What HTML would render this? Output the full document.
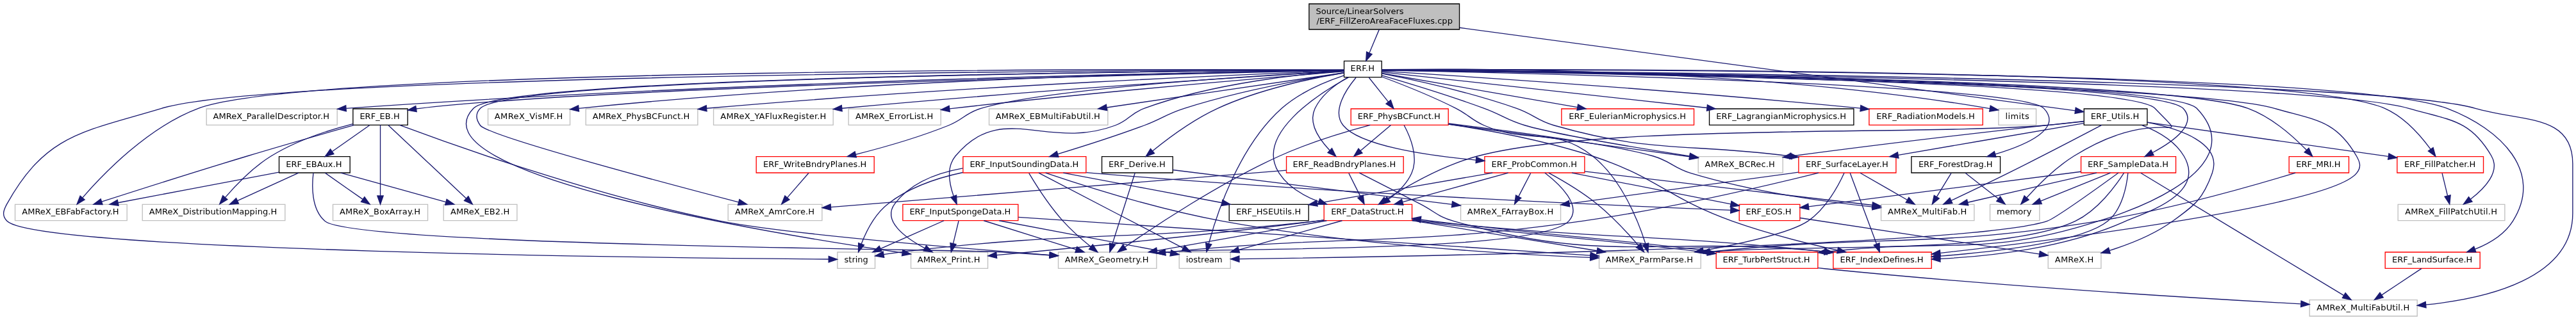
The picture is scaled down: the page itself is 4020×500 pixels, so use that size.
<!DOCTYPE html>
<html lang="en">
<head>
<meta charset="utf-8">
<title>ERF_FillZeroAreaFaceFluxes.cpp include dependency graph</title>
<style>
html,body{margin:0;padding:0;background:#fff;}
body{width:4020px;height:500px;overflow:hidden;}
svg{display:block;will-change:transform;}
svg text{font-family:"DejaVu Sans","Liberation Sans",sans-serif;font-size:9.75px;fill:#000;}
</style>
</head>
<body>
<svg width="4020" height="500" viewBox="0 0 3015 375">
<g transform="scale(1 1) rotate(0) translate(4 371)">
<polygon fill="white" stroke="none" points="-4,4 -4,-371 3011.15,-371 3011.15,4 -4,4"/>
<g>
<polygon fill="#bfbfbf" stroke="black" points="1528.15,-336.5 1528.15,-366.5 1704.15,-366.5 1704.15,-336.5 1528.15,-336.5"/>
<text text-anchor="start" x="1536.15" y="-354.5">Source/LinearSolvers</text>
<text text-anchor="middle" x="1616.53" y="-343.5" textLength="159.29" lengthAdjust="spacing">/ERF_FillZeroAreaFaceFluxes.cpp</text>
</g>
<g>
<polygon fill="white" stroke="black" points="1569.15,-280.5 1569.15,-299.5 1613.15,-299.5 1613.15,-280.5 1569.15,-280.5"/>
<text text-anchor="middle" x="1590.77" y="-287.5" textLength="28.16" lengthAdjust="spacing">ERF.H</text>
</g>
<g>
<path fill="none" stroke="midnightblue" d="M1610.23,-336.4C1606.78,-328.2 1602.4,-317.78 1598.71,-308.99"/>
<polygon fill="midnightblue" stroke="midnightblue" points="1601.89,-307.52 1594.79,-299.66 1595.44,-310.23 1601.89,-307.52"/>
</g>
<g>
<polygon fill="white" stroke="black" points="2435.15,-224.5 2435.15,-243.5 2509.15,-243.5 2509.15,-224.5 2435.15,-224.5"/>
<text text-anchor="middle" x="2471.40" y="-231.5" textLength="56.81" lengthAdjust="spacing">ERF_Utils.H</text>
</g>
<g>
<path fill="none" stroke="midnightblue" d="M1704.54,-338.57C1884.18,-314.34 2286.59,-260.04 2424.62,-241.41"/>
<polygon fill="midnightblue" stroke="midnightblue" points="2425.42,-244.84 2434.86,-240.03 2424.48,-237.9 2425.42,-244.84"/>
</g>
<g>
<polygon fill="white" stroke="#bfbfbf" points="976.15,-56.5 976.15,-75.5 1020.15,-75.5 1020.15,-56.5 976.15,-56.5"/>
<text text-anchor="middle" x="998.15" y="-63.5" textLength="28.00" lengthAdjust="spacing">string</text>
</g>
<g>
<path fill="none" stroke="midnightblue" d="M1569.01,-288.98C1400.46,-288.74 323.03,-285.6 185.15,-244 94.59,-216.67 50.2,-214.64 4.15,-132 -0.17,-124.24 -1.99,-118.43 4.15,-112 38.13,-76.45 798.37,-68.54 965.75,-67.22"/>
<polygon fill="midnightblue" stroke="midnightblue" points="965.93,-70.72 975.9,-67.15 965.88,-63.72 965.93,-70.72"/>
</g>
<g>
<polygon fill="white" stroke="#bfbfbf" points="2335.15,-224.5 2335.15,-243.5 2379.15,-243.5 2379.15,-224.5 2335.15,-224.5"/>
<text text-anchor="middle" x="2357.15" y="-231.5" textLength="28.03" lengthAdjust="spacing">limits</text>
</g>
<g>
<path fill="none" stroke="midnightblue" d="M1613.31,-289.42C1702,-290.74 2040.04,-292.23 2324.83,-243.83"/>
<polygon fill="midnightblue" stroke="midnightblue" points="2325.68,-247.24 2334.94,-242.09 2324.49,-240.34 2325.68,-247.24"/>
</g>
<g>
<polygon fill="white" stroke="#bfbfbf" points="2325.15,-112.5 2325.15,-131.5 2383.15,-131.5 2383.15,-112.5 2325.15,-112.5"/>
<text text-anchor="middle" x="2353.40" y="-119.5" textLength="40.75" lengthAdjust="spacing">memory</text>
</g>
<g>
<path fill="none" stroke="midnightblue" d="M1613.22,-288.78C1750.77,-287.3 2485.92,-277.83 2518.15,-244 2564.94,-194.89 2525.81,-252.21 2423.15,-188 2401.69,-174.58 2381.11,-153.82 2368.1,-139.39"/>
<polygon fill="midnightblue" stroke="midnightblue" points="2370.59,-136.92 2361.36,-131.72 2365.34,-141.54 2370.59,-136.92"/>
</g>
<g>
<polygon fill="white" stroke="#bfbfbf" points="848.15,-112.5 848.15,-131.5 958.15,-131.5 958.15,-112.5 848.15,-112.5"/>
<text text-anchor="middle" x="902.77" y="-119.5" textLength="92.89" lengthAdjust="spacing">AMReX_AmrCore.H</text>
</g>
<g>
<path fill="none" stroke="midnightblue" d="M1568.99,-288.89C1422.14,-288.08 594.35,-281.81 558.15,-244 552.01,-237.58 552.82,-231.11 558.15,-224 567.44,-211.6 769.94,-157.66 860.29,-134.09"/>
<polygon fill="midnightblue" stroke="midnightblue" points="861.43,-137.41 870.22,-131.5 859.66,-130.63 861.43,-137.41"/>
</g>
<g>
<polygon fill="white" stroke="#bfbfbf" points="1983.65,-168.5 1983.65,-187.5 2082.65,-187.5 2082.65,-168.5 1983.65,-168.5"/>
<text text-anchor="middle" x="2032.40" y="-175.5" textLength="81.93" lengthAdjust="spacing">AMReX_BCRec.H</text>
</g>
<g>
<path fill="none" stroke="midnightblue" d="M1613.49,-282.58C1641.64,-274.35 1691.38,-259.29 1733.15,-244 1754.86,-236.06 1758.98,-230.51 1781.15,-224 1816.29,-213.68 1910.65,-197.99 1973.4,-188.13"/>
<polygon fill="midnightblue" stroke="midnightblue" points="1974.23,-191.54 1983.57,-186.54 1973.15,-184.63 1974.23,-191.54"/>
</g>
<g>
<polygon fill="white" stroke="#bfbfbf" points="1062.15,-56.5 1062.15,-75.5 1152.15,-75.5 1152.15,-56.5 1062.15,-56.5"/>
<text text-anchor="middle" x="1106.40" y="-63.5" textLength="73.34" lengthAdjust="spacing">AMReX_Print.H</text>
</g>
<g>
<path fill="none" stroke="midnightblue" d="M1568.81,-288.9C1420.84,-288.13 586.63,-282.09 550.15,-244 476.57,-167.17 897.21,-97.45 1051.82,-74.74"/>
<polygon fill="midnightblue" stroke="midnightblue" points="1052.66,-78.16 1062.05,-73.25 1051.65,-71.23 1052.66,-78.16"/>
</g>
<g>
<polygon fill="white" stroke="#bfbfbf" points="237.65,-224.5 237.65,-243.5 390.65,-243.5 390.65,-224.5 237.65,-224.5"/>
<text text-anchor="middle" x="313.40" y="-231.5" textLength="136.18" lengthAdjust="spacing">AMReX_ParallelDescriptor.H</text>
</g>
<g>
<path fill="none" stroke="midnightblue" d="M1568.81,-288.71C1449.92,-287.05 879.41,-277.65 401.24,-244.02"/>
<polygon fill="midnightblue" stroke="midnightblue" points="401.25,-240.52 391.02,-243.3 400.75,-247.5 401.25,-240.52"/>
</g>
<g>
<polygon fill="white" stroke="#bfbfbf" points="1867.65,-56.5 1867.65,-75.5 1986.65,-75.5 1986.65,-56.5 1867.65,-56.5"/>
<text text-anchor="middle" x="1926.40" y="-63.5" textLength="102.16" lengthAdjust="spacing">AMReX_ParmParse.H</text>
</g>
<g>
<path fill="none" stroke="midnightblue" d="M1613.31,-281C1635.65,-272.66 1670.92,-258.78 1700.15,-244 1715.46,-236.26 1717.43,-230.84 1733.15,-224 1786.95,-200.59 1814.19,-224.46 1860.15,-188 1894.06,-161.1 1913.43,-112.09 1921.93,-85.45"/>
<polygon fill="midnightblue" stroke="midnightblue" points="1925.39,-86.11 1924.92,-75.53 1918.68,-84.09 1925.39,-86.11"/>
</g>
<g>
<polygon fill="white" stroke="#bfbfbf" points="2699.15,-0.5 2699.15,-19.5 2825.15,-19.5 2825.15,-0.5 2699.15,-0.5"/>
<text text-anchor="middle" x="2761.77" y="-7.5" textLength="108.74" lengthAdjust="spacing">AMReX_MultiFabUtil.H</text>
</g>
<g>
<path fill="none" stroke="midnightblue" d="M1613.16,-288.87C1773.97,-287.88 2765.25,-280.28 2893.15,-244 2949.26,-228.09 3007.15,-237.32 3007.15,-179 3007.15,-179 3007.15,-179 3007.15,-121 3007.15,-44.85 2907.44,-21.09 2835.24,-13.87"/>
<polygon fill="midnightblue" stroke="midnightblue" points="2835.52,-10.38 2825.25,-12.96 2834.89,-17.35 2835.52,-10.38"/>
</g>
<g>
<polygon fill="white" stroke="#bfbfbf" points="2802.65,-112.5 2802.65,-131.5 2927.65,-131.5 2927.65,-112.5 2802.65,-112.5"/>
<text text-anchor="middle" x="2864.77" y="-119.5" textLength="107.84" lengthAdjust="spacing">AMReX_FillPatchUtil.H</text>
</g>
<g>
<path fill="none" stroke="midnightblue" d="M1613.57,-288.83C1769.97,-287.53 2695.48,-278.43 2815.15,-244 2862.99,-230.24 2887.26,-231.11 2912.15,-188 2922.65,-169.82 2904.49,-150.52 2887.78,-137.71"/>
<polygon fill="midnightblue" stroke="midnightblue" points="2889.5,-134.64 2879.34,-131.65 2885.42,-140.33 2889.5,-134.64"/>
</g>
<g>
<polygon fill="white" stroke="#bfbfbf" points="567.15,-224.5 567.15,-243.5 663.15,-243.5 663.15,-224.5 567.15,-224.5"/>
<text text-anchor="middle" x="614.77" y="-231.5" textLength="79.85" lengthAdjust="spacing">AMReX_VisMF.H</text>
</g>
<g>
<path fill="none" stroke="midnightblue" d="M1569.04,-288.79C1467.64,-287.67 1036.97,-280.92 673.5,-244.02"/>
<polygon fill="midnightblue" stroke="midnightblue" points="673.61,-240.51 663.31,-242.98 672.9,-247.48 673.61,-240.51"/>
</g>
<g>
<polygon fill="white" stroke="#bfbfbf" points="681.65,-224.5 681.65,-243.5 812.65,-243.5 812.65,-224.5 681.65,-224.5"/>
<text text-anchor="middle" x="746.40" y="-231.5" textLength="113.75" lengthAdjust="spacing">AMReX_PhysBCFunct.H</text>
</g>
<g>
<path fill="none" stroke="midnightblue" d="M1569.09,-288.2C1478.41,-284.82 1125.26,-270.63 823.25,-244.04"/>
<polygon fill="midnightblue" stroke="midnightblue" points="823.25,-240.53 812.98,-243.13 822.63,-247.5 823.25,-240.53"/>
</g>
<g>
<polygon fill="white" stroke="#bfbfbf" points="831.15,-224.5 831.15,-243.5 971.15,-243.5 971.15,-224.5 831.15,-224.5"/>
<text text-anchor="middle" x="901.15" y="-231.5" textLength="123.79" lengthAdjust="spacing">AMReX_YAFluxRegister.H</text>
</g>
<g>
<path fill="none" stroke="midnightblue" d="M1568.93,-287.69C1490.32,-282.97 1217.82,-266.03 981.51,-244.09"/>
<polygon fill="midnightblue" stroke="midnightblue" points="981.63,-240.59 971.35,-243.14 980.98,-247.56 981.63,-240.59"/>
</g>
<g>
<polygon fill="white" stroke="#bfbfbf" points="989.15,-224.5 989.15,-243.5 1097.15,-243.5 1097.15,-224.5 989.15,-224.5"/>
<text text-anchor="middle" x="1042.77" y="-231.5" textLength="90.97" lengthAdjust="spacing">AMReX_ErrorList.H</text>
</g>
<g>
<path fill="none" stroke="midnightblue" d="M1569.11,-287.23C1500.94,-281.71 1287.47,-263.93 1111.15,-244 1109.89,-243.86 1108.61,-243.71 1107.32,-243.56"/>
<polygon fill="midnightblue" stroke="midnightblue" points="1107.67,-240.08 1097.32,-242.36 1106.83,-247.03 1107.67,-240.08"/>
</g>
<g>
<polygon fill="white" stroke="#bfbfbf" points="13.65,-112.5 13.65,-131.5 144.65,-131.5 144.65,-112.5 13.65,-112.5"/>
<text text-anchor="middle" x="78.40" y="-119.5" textLength="113.36" lengthAdjust="spacing">AMReX_EBFabFactory.H</text>
</g>
<g>
<path fill="none" stroke="midnightblue" d="M1569.11,-289.12C1403.62,-289.89 358.8,-292.81 228.15,-244 169.56,-222.11 116.79,-167.28 92.8,-139.57"/>
<polygon fill="midnightblue" stroke="midnightblue" points="95.19,-136.98 86.05,-131.61 89.85,-141.5 95.19,-136.98"/>
</g>
<g>
<polygon fill="white" stroke="#bfbfbf" points="1153.65,-224.5 1153.65,-243.5 1292.65,-243.5 1292.65,-224.5 1153.65,-224.5"/>
<text text-anchor="middle" x="1222.40" y="-231.5" textLength="122.34" lengthAdjust="spacing">AMReX_EBMultiFabUtil.H</text>
</g>
<g>
<path fill="none" stroke="midnightblue" d="M1568.96,-285.74C1515.13,-277.84 1375.84,-257.4 1291.37,-245.01"/>
<polygon fill="midnightblue" stroke="midnightblue" points="1291.75,-241.53 1281.35,-243.54 1290.74,-248.46 1291.75,-241.53"/>
</g>
<g>
<polygon fill="white" stroke="black" points="409.15,-224.5 409.15,-243.5 473.15,-243.5 473.15,-224.5 409.15,-224.5"/>
<text text-anchor="middle" x="440.40" y="-231.5" textLength="46.70" lengthAdjust="spacing">ERF_EB.H</text>
</g>
<g>
<path fill="none" stroke="midnightblue" d="M1568.81,-288.55C1432.16,-285.76 707.67,-269.91 487.15,-244 485.88,-243.85 484.59,-243.69 483.29,-243.51"/>
<polygon fill="midnightblue" stroke="midnightblue" points="483.65,-240.02 473.22,-241.92 482.56,-246.94 483.65,-240.02"/>
</g>
<g>
<polygon fill="white" stroke="red" points="1733.65,-168.5 1733.65,-187.5 1850.65,-187.5 1850.65,-168.5 1733.65,-168.5"/>
<text text-anchor="middle" x="1791.77" y="-175.5" textLength="100.17" lengthAdjust="spacing">ERF_ProbCommon.H</text>
</g>
<g>
<path fill="none" stroke="midnightblue" d="M1583.04,-280.07C1571.8,-266.6 1554.35,-240.85 1568.15,-224 1587.54,-200.34 1664.88,-188.85 1723.3,-183.46"/>
<polygon fill="midnightblue" stroke="midnightblue" points="1723.94,-186.92 1733.6,-182.55 1723.33,-179.94 1723.94,-186.92"/>
</g>
<g>
<polygon fill="white" stroke="red" points="1545.65,-112.5 1545.65,-131.5 1648.65,-131.5 1648.65,-112.5 1545.65,-112.5"/>
<text text-anchor="middle" x="1596.40" y="-119.5" textLength="85.02" lengthAdjust="spacing">ERF_DataStruct.H</text>
</g>
<g>
<path fill="none" stroke="midnightblue" d="M1574.35,-280.36C1539.22,-261.14 1463.62,-212.96 1493.15,-168 1503.72,-151.91 1521.41,-141.54 1539.23,-134.88"/>
<polygon fill="midnightblue" stroke="midnightblue" points="1540.75,-138.06 1549.1,-131.54 1538.51,-131.43 1540.75,-138.06"/>
</g>
<g>
<polygon fill="white" stroke="#bfbfbf" points="1376.15,-56.5 1376.15,-75.5 1436.15,-75.5 1436.15,-56.5 1376.15,-56.5"/>
<text text-anchor="middle" x="1405.40" y="-63.5" textLength="42.84" lengthAdjust="spacing">iostream</text>
</g>
<g>
<path fill="none" stroke="midnightblue" d="M1569.12,-282.56C1548.44,-275.66 1517.56,-263.05 1496.15,-244 1446.43,-199.74 1420.51,-121.54 1410.78,-85.79"/>
<polygon fill="midnightblue" stroke="midnightblue" points="1414.08,-84.57 1408.18,-75.77 1407.3,-86.33 1414.08,-84.57"/>
</g>
<g>
<polygon fill="white" stroke="red" points="2141.65,-56.5 2141.65,-75.5 2256.65,-75.5 2256.65,-56.5 2141.65,-56.5"/>
<text text-anchor="middle" x="2198.40" y="-63.5" textLength="97.61" lengthAdjust="spacing">ERF_IndexDefines.H</text>
</g>
<g>
<path fill="none" stroke="midnightblue" d="M1613.39,-288.7C1757.36,-286.71 2554.62,-274.34 2658.15,-244 2705.55,-230.11 2729.55,-230.83 2754.15,-188 2758.58,-180.29 2759.75,-174.91 2754.15,-168 2723.66,-130.33 2408.58,-90.54 2267.18,-74.42"/>
<polygon fill="midnightblue" stroke="midnightblue" points="2267.23,-70.9 2256.9,-73.26 2266.44,-77.86 2267.23,-70.9"/>
</g>
<g>
<polygon fill="white" stroke="red" points="2004.65,-56.5 2004.65,-75.5 2123.65,-75.5 2123.65,-56.5 2004.65,-56.5"/>
<text text-anchor="middle" x="2063.40" y="-63.5" textLength="101.95" lengthAdjust="spacing">ERF_TurbPertStruct.H</text>
</g>
<g>
<path fill="none" stroke="midnightblue" d="M1613.46,-288.83C1755.86,-287.66 2533.11,-279.65 2567.15,-244 2642.36,-165.24 2452.56,-112.13 2452.15,-112 2319.39,-69.26 2276.7,-92.14 2133.98,-76.04"/>
<polygon fill="midnightblue" stroke="midnightblue" points="2134.32,-72.56 2123.98,-74.87 2133.51,-79.51 2134.32,-72.56"/>
</g>
<g>
<polygon fill="white" stroke="red" points="1123.15,-168.5 1123.15,-187.5 1267.15,-187.5 1267.15,-168.5 1123.15,-168.5"/>
<text text-anchor="middle" x="1194.77" y="-175.5" textLength="127.41" lengthAdjust="spacing">ERF_InputSoundingData.H</text>
</g>
<g>
<path fill="none" stroke="midnightblue" d="M1569.13,-285.68C1530.64,-279.55 1448.84,-265.16 1382.15,-244 1360.51,-237.14 1356.43,-231.93 1335.15,-224 1301.49,-211.46 1262.53,-199.11 1234.27,-190.53"/>
<polygon fill="midnightblue" stroke="midnightblue" points="1234.96,-187.08 1224.38,-187.54 1232.94,-193.78 1234.96,-187.08"/>
</g>
<g>
<polygon fill="white" stroke="red" points="1052.65,-112.5 1052.65,-131.5 1187.65,-131.5 1187.65,-112.5 1052.65,-112.5"/>
<text text-anchor="middle" x="1119.77" y="-119.5" textLength="118.34" lengthAdjust="spacing">ERF_InputSpongeData.H</text>
</g>
<g>
<path fill="none" stroke="midnightblue" d="M1568.89,-287.76C1523.58,-284.65 1417.94,-274.49 1335.15,-244 1318.7,-237.94 1317.55,-230.19 1301.15,-224 1221.97,-194.11 1168.05,-253.26 1114.15,-188 1103.47,-175.06 1107.15,-155.35 1112.15,-141.02"/>
<polygon fill="midnightblue" stroke="midnightblue" points="1115.41,-142.3 1115.84,-131.72 1108.9,-139.72 1115.41,-142.3"/>
</g>
<g>
<polygon fill="white" stroke="red" points="2101.15,-168.5 2101.15,-187.5 2215.15,-187.5 2215.15,-168.5 2101.15,-168.5"/>
<text text-anchor="middle" x="2157.77" y="-175.5" textLength="96.54" lengthAdjust="spacing">ERF_SurfaceLayer.H</text>
</g>
<g>
<path fill="none" stroke="midnightblue" d="M1613.42,-284.79C1647.8,-277.99 1715.65,-263.37 1771.15,-244 1791.43,-236.92 1794.5,-229.89 1815.15,-224 1931.39,-190.84 1967.21,-203.66 2090.69,-188.15"/>
<polygon fill="midnightblue" stroke="midnightblue" points="2091.45,-191.58 2100.92,-186.83 2090.55,-184.64 2091.45,-191.58"/>
</g>
<g>
<polygon fill="white" stroke="black" points="1285.65,-168.5 1285.65,-187.5 1368.65,-187.5 1368.65,-168.5 1285.65,-168.5"/>
<text text-anchor="middle" x="1326.77" y="-175.5" textLength="66.60" lengthAdjust="spacing">ERF_Derive.H</text>
</g>
<g>
<path fill="none" stroke="midnightblue" d="M1569.13,-285.68C1535.89,-280.12 1471.48,-267.19 1421.15,-244 1392.5,-230.8 1363.19,-208.92 1345.08,-194.24"/>
<polygon fill="midnightblue" stroke="midnightblue" points="1347.08,-191.35 1337.14,-187.68 1342.62,-196.75 1347.08,-191.35"/>
</g>
<g>
<polygon fill="white" stroke="red" points="1501.65,-168.5 1501.65,-187.5 1638.65,-187.5 1638.65,-168.5 1501.65,-168.5"/>
<text text-anchor="middle" x="1569.40" y="-175.5" textLength="120.52" lengthAdjust="spacing">ERF_ReadBndryPlanes.H</text>
</g>
<g>
<path fill="none" stroke="midnightblue" d="M1573.65,-280.46C1560.37,-272.92 1543.08,-260.53 1535.15,-244 1526.99,-226.96 1539.83,-208 1552.19,-194.97"/>
<polygon fill="midnightblue" stroke="midnightblue" points="1554.93,-197.19 1559.64,-187.7 1550.04,-192.18 1554.93,-197.19"/>
</g>
<g>
<polygon fill="white" stroke="red" points="881.15,-168.5 881.15,-187.5 1019.15,-187.5 1019.15,-168.5 881.15,-168.5"/>
<text text-anchor="middle" x="949.77" y="-175.5" textLength="121.01" lengthAdjust="spacing">ERF_WriteBndryPlanes.H</text>
</g>
<g>
<path fill="none" stroke="midnightblue" d="M1569.1,-287.9C1490.63,-283.8 1225.28,-268.42 1144.15,-244 1125.88,-238.5 1123.86,-231.13 1106.15,-224 1070.64,-209.71 1028.91,-197.91 997.54,-189.99"/>
<polygon fill="midnightblue" stroke="midnightblue" points="998.3,-186.57 987.75,-187.56 996.61,-193.37 998.3,-186.57"/>
</g>
<g>
<polygon fill="white" stroke="red" points="2675.15,-168.5 2675.15,-187.5 2745.15,-187.5 2745.15,-168.5 2675.15,-168.5"/>
<text text-anchor="middle" x="2709.40" y="-175.5" textLength="51.91" lengthAdjust="spacing">ERF_MRI.H</text>
</g>
<g>
<path fill="none" stroke="midnightblue" d="M1613.26,-288.85C1754.6,-287.78 2528.99,-280.26 2627.15,-244 2654.64,-233.85 2680.21,-210.97 2695.51,-195.26"/>
<polygon fill="midnightblue" stroke="midnightblue" points="2698.22,-197.48 2702.53,-187.8 2693.12,-192.68 2698.22,-197.48"/>
</g>
<g>
<polygon fill="white" stroke="red" points="1577.15,-224.5 1577.15,-243.5 1691.15,-243.5 1691.15,-224.5 1577.15,-224.5"/>
<text text-anchor="middle" x="1633.40" y="-231.5" textLength="96.70" lengthAdjust="spacing">ERF_PhysBCFunct.H</text>
</g>
<g>
<path fill="none" stroke="midnightblue" d="M1598.25,-280.08C1604.39,-272.38 1613.42,-261.03 1620.89,-251.65"/>
<polygon fill="midnightblue" stroke="midnightblue" points="1623.69,-253.75 1627.18,-243.75 1618.22,-249.39 1623.69,-253.75"/>
</g>
<g>
<polygon fill="white" stroke="red" points="2801.65,-168.5 2801.65,-187.5 2902.65,-187.5 2902.65,-168.5 2801.65,-168.5"/>
<text text-anchor="middle" x="2851.77" y="-175.5" textLength="83.52" lengthAdjust="spacing">ERF_FillPatcher.H</text>
</g>
<g>
<path fill="none" stroke="midnightblue" d="M1613.17,-289.13C1766.8,-289.95 2675.63,-292.67 2787.15,-244 2810.14,-233.97 2829.4,-211.76 2840.85,-196.1"/>
<polygon fill="midnightblue" stroke="midnightblue" points="2843.8,-197.99 2846.65,-187.78 2838.06,-193.98 2843.8,-197.99"/>
</g>
<g>
<polygon fill="white" stroke="red" points="2431.65,-168.5 2431.65,-187.5 2542.65,-187.5 2542.65,-168.5 2431.65,-168.5"/>
<text text-anchor="middle" x="2486.77" y="-175.5" textLength="94.44" lengthAdjust="spacing">ERF_SampleData.H</text>
</g>
<g>
<path fill="none" stroke="midnightblue" d="M1613.54,-288.81C1754.81,-287.54 2517.71,-279.04 2551.15,-244 2568.51,-225.81 2539.74,-205.19 2515.37,-192.15"/>
<polygon fill="midnightblue" stroke="midnightblue" points="2516.85,-188.97 2506.35,-187.54 2513.66,-195.2 2516.85,-188.97"/>
</g>
<g>
<polygon fill="white" stroke="black" points="2233.15,-168.5 2233.15,-187.5 2337.15,-187.5 2337.15,-168.5 2233.15,-168.5"/>
<text text-anchor="middle" x="2284.77" y="-175.5" textLength="86.71" lengthAdjust="spacing">ERF_ForestDrag.H</text>
</g>
<g>
<path fill="none" stroke="midnightblue" d="M1613.3,-288.6C1739.26,-286.21 2360.78,-272.96 2388.15,-244 2410.62,-220.23 2368.33,-201.45 2331.34,-190.32"/>
<polygon fill="midnightblue" stroke="midnightblue" points="2332.18,-186.92 2321.6,-187.51 2330.25,-193.64 2332.18,-186.92"/>
</g>
<g>
<polygon fill="white" stroke="red" points="1823.65,-224.5 1823.65,-243.5 1978.65,-243.5 1978.65,-224.5 1823.65,-224.5"/>
<text text-anchor="middle" x="1900.77" y="-231.5" textLength="137.13" lengthAdjust="spacing">ERF_EulerianMicrophysics.H</text>
</g>
<g>
<path fill="none" stroke="midnightblue" d="M1613.45,-285.12C1660.82,-276.86 1772.83,-257.35 1842.29,-245.25"/>
<polygon fill="midnightblue" stroke="midnightblue" points="1842.96,-248.69 1852.21,-243.52 1841.76,-241.79 1842.96,-248.69"/>
</g>
<g>
<polygon fill="white" stroke="black" points="1996.65,-224.5 1996.65,-243.5 2165.65,-243.5 2165.65,-224.5 1996.65,-224.5"/>
<text text-anchor="middle" x="2080.77" y="-231.5" textLength="152.03" lengthAdjust="spacing">ERF_LagrangianMicrophysics.H</text>
</g>
<g>
<path fill="none" stroke="midnightblue" d="M1613.16,-286.57C1679.11,-279.31 1877.76,-257.41 1993.97,-244.61"/>
<polygon fill="midnightblue" stroke="midnightblue" points="1994.35,-248.09 2003.91,-243.51 1993.59,-241.13 1994.35,-248.09"/>
</g>
<g>
<polygon fill="white" stroke="red" points="2787.65,-56.5 2787.65,-75.5 2898.65,-75.5 2898.65,-56.5 2787.65,-56.5"/>
<text text-anchor="middle" x="2842.77" y="-63.5" textLength="94.02" lengthAdjust="spacing">ERF_LandSurface.H</text>
</g>
<g>
<path fill="none" stroke="midnightblue" d="M1613.18,-289.08C1772,-289.52 2739.27,-290.31 2860.15,-244 2923.58,-219.7 2973.35,-169.47 2937.15,-112 2927.14,-96.11 2909.8,-85.71 2892.72,-78.96"/>
<polygon fill="midnightblue" stroke="midnightblue" points="2893.89,-75.66 2883.3,-75.57 2891.52,-82.25 2893.89,-75.66"/>
</g>
<g>
<polygon fill="white" stroke="red" points="2183.65,-224.5 2183.65,-243.5 2316.65,-243.5 2316.65,-224.5 2183.65,-224.5"/>
<text text-anchor="middle" x="2249.77" y="-231.5" textLength="115.04" lengthAdjust="spacing">ERF_RadiationModels.H</text>
</g>
<g>
<path fill="none" stroke="midnightblue" d="M1613.19,-287.64C1689.34,-282.87 1948.56,-266.06 2173.5,-244.13"/>
<polygon fill="midnightblue" stroke="midnightblue" points="2173.9,-247.61 2183.51,-243.15 2173.22,-240.64 2173.9,-247.61"/>
</g>
<g>
<path fill="none" stroke="midnightblue" d="M410.6,-224.43C379.1,-215.53 328.6,-201.12 285.15,-188 225.29,-169.92 156.01,-147.82 114.98,-134.6"/>
<polygon fill="midnightblue" stroke="midnightblue" points="116.02,-131.26 105.43,-131.52 113.87,-137.92 116.02,-131.26"/>
</g>
<g>
<polygon fill="white" stroke="#bfbfbf" points="1234.65,-56.5 1234.65,-75.5 1349.65,-75.5 1349.65,-56.5 1234.65,-56.5"/>
<text text-anchor="middle" x="1291.40" y="-63.5" textLength="98.13" lengthAdjust="spacing">AMReX_Geometry.H</text>
</g>
<g>
<path fill="none" stroke="midnightblue" d="M463.64,-224.45C523.63,-202.02 692.91,-141.2 839.15,-112 911.04,-97.65 1116.63,-80.46 1224.39,-72.09"/>
<polygon fill="midnightblue" stroke="midnightblue" points="1224.81,-75.57 1234.51,-71.31 1224.27,-68.59 1224.81,-75.57"/>
</g>
<g>
<polygon fill="white" stroke="#bfbfbf" points="162.65,-112.5 162.65,-131.5 329.65,-131.5 329.65,-112.5 162.65,-112.5"/>
<text text-anchor="middle" x="245.40" y="-119.5" textLength="149.64" lengthAdjust="spacing">AMReX_DistributionMapping.H</text>
</g>
<g>
<path fill="none" stroke="midnightblue" d="M408.94,-225.81C381.98,-218.85 343.2,-206.59 313.15,-188 291.96,-174.88 272.04,-154.06 259.52,-139.53"/>
<polygon fill="midnightblue" stroke="midnightblue" points="262.16,-137.23 253.05,-131.81 256.79,-141.72 262.16,-137.23"/>
</g>
<g>
<polygon fill="white" stroke="#bfbfbf" points="385.65,-112.5 385.65,-131.5 496.65,-131.5 496.65,-112.5 385.65,-112.5"/>
<text text-anchor="middle" x="440.77" y="-119.5" textLength="94.65" lengthAdjust="spacing">AMReX_BoxArray.H</text>
</g>
<g>
<path fill="none" stroke="midnightblue" d="M441.15,-224.37C441.15,-206.62 441.15,-165.67 441.15,-141.6"/>
<polygon fill="midnightblue" stroke="midnightblue" points="444.65,-141.59 441.15,-131.59 437.65,-141.59 444.65,-141.59"/>
</g>
<g>
<polygon fill="white" stroke="#bfbfbf" points="515.15,-112.5 515.15,-131.5 601.15,-131.5 601.15,-112.5 515.15,-112.5"/>
<text text-anchor="middle" x="557.77" y="-119.5" textLength="69.21" lengthAdjust="spacing">AMReX_EB2.H</text>
</g>
<g>
<path fill="none" stroke="midnightblue" d="M450.33,-224.37C469.98,-205.89 516.36,-162.29 541.41,-138.74"/>
<polygon fill="midnightblue" stroke="midnightblue" points="544.13,-140.99 549.01,-131.59 539.33,-135.89 544.13,-140.99"/>
</g>
<g>
<polygon fill="white" stroke="black" points="322.65,-168.5 322.65,-187.5 405.65,-187.5 405.65,-168.5 322.65,-168.5"/>
<text text-anchor="middle" x="363.40" y="-175.5" textLength="65.32" lengthAdjust="spacing">ERF_EBAux.H</text>
</g>
<g>
<path fill="none" stroke="midnightblue" d="M428.78,-224.32C416.99,-216.06 399.02,-203.45 385.02,-193.63"/>
<polygon fill="midnightblue" stroke="midnightblue" points="386.69,-190.53 376.49,-187.65 382.67,-196.26 386.69,-190.53"/>
</g>
<g>
<path fill="none" stroke="midnightblue" d="M322.41,-169.09C272.63,-159.66 189.26,-143.86 134.24,-133.44"/>
<polygon fill="midnightblue" stroke="midnightblue" points="134.78,-129.98 124.31,-131.56 133.48,-136.86 134.78,-129.98"/>
</g>
<g>
<path fill="none" stroke="midnightblue" d="M362.74,-168.22C361.02,-153.98 360.06,-126.03 376.15,-112 409.06,-83.31 1117.57,-78.5 1161.15,-76 1181.69,-74.82 1204.03,-73.36 1224.35,-71.95"/>
<polygon fill="midnightblue" stroke="midnightblue" points="1224.72,-75.44 1234.46,-71.25 1224.24,-68.45 1224.72,-75.44"/>
</g>
<g>
<path fill="none" stroke="midnightblue" d="M345.45,-168.44C326.21,-159.64 296,-145.81 273.95,-135.72"/>
<polygon fill="midnightblue" stroke="midnightblue" points="275.31,-132.5 264.76,-131.52 272.4,-138.86 275.31,-132.5"/>
</g>
<g>
<path fill="none" stroke="midnightblue" d="M376.52,-168.32C388.31,-160.06 406.28,-147.45 420.29,-137.63"/>
<polygon fill="midnightblue" stroke="midnightblue" points="422.63,-140.26 428.81,-131.65 418.61,-134.53 422.63,-140.26"/>
</g>
<g>
<path fill="none" stroke="midnightblue" d="M394.89,-168.44C428.1,-159.2 481.14,-144.44 517.71,-134.26"/>
<polygon fill="midnightblue" stroke="midnightblue" points="518.86,-137.57 527.56,-131.52 516.98,-130.83 518.86,-137.57"/>
</g>
<g>
<path fill="none" stroke="midnightblue" d="M1808.6,-168.46C1823.94,-160.13 1847.1,-146.62 1865.15,-132 1883.42,-117.21 1901.67,-97.3 1913.59,-83.43"/>
<polygon fill="midnightblue" stroke="midnightblue" points="1916.36,-85.58 1920.13,-75.68 1911.01,-81.06 1916.36,-85.58"/>
</g>
<g>
<path fill="none" stroke="midnightblue" d="M1804.07,-168.5C1821.11,-155.36 1848.62,-129.8 1832.15,-112 1796.95,-73.97 1418.72,-81.09 1367.15,-76 1364.78,-75.77 1362.38,-75.52 1359.94,-75.27"/>
<polygon fill="midnightblue" stroke="midnightblue" points="1360.18,-71.77 1349.86,-74.17 1359.43,-78.73 1360.18,-71.77"/>
</g>
<g>
<polygon fill="white" stroke="#bfbfbf" points="1705.65,-112.5 1705.65,-131.5 1822.65,-131.5 1822.65,-112.5 1705.65,-112.5"/>
<text text-anchor="middle" x="1763.77" y="-119.5" textLength="100.76" lengthAdjust="spacing">AMReX_FArrayBox.H</text>
</g>
<g>
<path fill="none" stroke="midnightblue" d="M1787.53,-168.08C1783.7,-160.69 1778.13,-149.95 1773.39,-140.81"/>
<polygon fill="midnightblue" stroke="midnightblue" points="1776.4,-139.02 1768.69,-131.75 1770.19,-142.24 1776.4,-139.02"/>
</g>
<g>
<polygon fill="white" stroke="#bfbfbf" points="2197.65,-112.5 2197.65,-131.5 2306.65,-131.5 2306.65,-112.5 2197.65,-112.5"/>
<text text-anchor="middle" x="2251.77" y="-119.5" textLength="92.37" lengthAdjust="spacing">AMReX_MultiFab.H</text>
</g>
<g>
<path fill="none" stroke="midnightblue" d="M1850.88,-170.11C1937.17,-159.98 2097.67,-141.14 2187.31,-130.61"/>
<polygon fill="midnightblue" stroke="midnightblue" points="2187.83,-134.07 2197.36,-129.43 2187.02,-127.12 2187.83,-134.07"/>
</g>
<g>
<path fill="none" stroke="midnightblue" d="M1761.25,-168.44C1727.88,-159.2 1674.56,-144.44 1637.8,-134.26"/>
<polygon fill="midnightblue" stroke="midnightblue" points="1638.48,-130.81 1627.91,-131.52 1636.61,-137.56 1638.48,-130.81"/>
</g>
<g>
<polygon fill="white" stroke="red" points="2031.65,-112.5 2031.65,-131.5 2102.65,-131.5 2102.65,-112.5 2031.65,-112.5"/>
<text text-anchor="middle" x="2066.03" y="-119.5" textLength="53.13" lengthAdjust="spacing">ERF_EOS.H</text>
</g>
<g>
<path fill="none" stroke="midnightblue" d="M1835.73,-168.44C1886.56,-158.46 1970.19,-142.04 2021.78,-131.91"/>
<polygon fill="midnightblue" stroke="midnightblue" points="2022.51,-135.33 2031.65,-129.97 2021.17,-128.46 2022.51,-135.33"/>
</g>
<g>
<polygon fill="white" stroke="black" points="1434.65,-112.5 1434.65,-131.5 1527.65,-131.5 1527.65,-112.5 1434.65,-112.5"/>
<text text-anchor="middle" x="1480.77" y="-119.5" textLength="75.74" lengthAdjust="spacing">ERF_HSEUtils.H</text>
</g>
<g>
<path fill="none" stroke="midnightblue" d="M1742.87,-168.44C1687.13,-158.76 1596.5,-143.03 1537.86,-132.85"/>
<polygon fill="midnightblue" stroke="midnightblue" points="1538.11,-129.34 1527.66,-131.08 1536.91,-136.23 1538.11,-129.34"/>
</g>
<g>
<path fill="none" stroke="midnightblue" d="M1545.47,-113C1542.66,-112.64 1539.87,-112.3 1537.15,-112 1322.79,-87.98 1267.35,-101.44 1053.15,-76 1045.69,-75.11 1037.69,-73.94 1030.17,-72.73"/>
<polygon fill="midnightblue" stroke="midnightblue" points="1030.74,-69.27 1020.3,-71.08 1029.59,-76.18 1030.74,-69.27"/>
</g>
<g>
<path fill="none" stroke="midnightblue" d="M1545.46,-113.1C1542.65,-112.71 1539.87,-112.35 1537.15,-112 1402.91,-94.92 1244.48,-79.58 1162.51,-72"/>
<polygon fill="midnightblue" stroke="midnightblue" points="1162.7,-68.5 1152.42,-71.07 1162.06,-75.47 1162.7,-68.5"/>
</g>
<g>
<path fill="none" stroke="midnightblue" d="M1648.71,-112.56C1707.18,-102.99 1802.49,-87.4 1865.01,-77.17"/>
<polygon fill="midnightblue" stroke="midnightblue" points="1865.83,-80.58 1875.14,-75.51 1864.7,-73.67 1865.83,-80.58"/>
</g>
<g>
<path fill="none" stroke="midnightblue" d="M1548.82,-112.44C1494.95,-102.9 1407.85,-87.48 1350.29,-77.29"/>
<polygon fill="midnightblue" stroke="midnightblue" points="1350.71,-73.81 1340.25,-75.52 1349.49,-80.71 1350.71,-73.81"/>
</g>
<g>
<path fill="none" stroke="midnightblue" d="M1566.89,-112.44C1534.2,-103.2 1481.97,-88.44 1445.97,-78.26"/>
<polygon fill="midnightblue" stroke="midnightblue" points="1446.85,-74.87 1436.28,-75.52 1444.95,-81.61 1446.85,-74.87"/>
</g>
<g>
<path fill="none" stroke="midnightblue" d="M1649,-113.64C1653.78,-113.05 1658.55,-112.49 1663.15,-112 1868.22,-90.18 1923.12,-97.91 2131.54,-76.11"/>
<polygon fill="midnightblue" stroke="midnightblue" points="2132.01,-79.59 2141.58,-75.05 2131.27,-72.62 2132.01,-79.59"/>
</g>
<g>
<path fill="none" stroke="midnightblue" d="M1648.92,-112.65C1650.68,-112.43 1652.43,-112.21 1654.15,-112 1801.92,-93.94 1839.35,-93.77 1987.15,-76 1989.5,-75.72 1991.89,-75.43 1994.3,-75.13"/>
<polygon fill="midnightblue" stroke="midnightblue" points="1994.87,-78.58 2004.35,-73.87 1994,-71.64 1994.87,-78.58"/>
</g>
<g>
<path fill="none" stroke="midnightblue" d="M2123.97,-56.98C2127.07,-56.63 2130.15,-56.3 2133.15,-56 2333.79,-35.76 2571.33,-21.35 2688.8,-14.86"/>
<polygon fill="midnightblue" stroke="midnightblue" points="2689.31,-18.33 2699.11,-14.29 2688.93,-11.34 2689.31,-18.33"/>
</g>
<g>
<path fill="none" stroke="midnightblue" d="M2009.09,-75.52C2007.77,-75.68 2006.45,-75.84 2005.15,-76 1857.35,-93.77 1819.92,-93.94 1672.15,-112 1667.96,-112.51 1663.61,-113.06 1659.22,-113.63"/>
<polygon fill="midnightblue" stroke="midnightblue" points="1658.4,-110.21 1648.94,-114.97 1659.31,-117.15 1658.4,-110.21"/>
</g>
<g>
<polygon fill="white" stroke="#bfbfbf" points="2393.15,-56.5 2393.15,-75.5 2455.15,-75.5 2455.15,-56.5 2393.15,-56.5"/>
<text text-anchor="middle" x="2423.77" y="-63.5" textLength="45.28" lengthAdjust="spacing">AMReX.H</text>
</g>
<g>
<path fill="none" stroke="midnightblue" d="M2102.69,-115.62C2169.12,-105.58 2311.79,-84 2382.57,-73.29"/>
<polygon fill="midnightblue" stroke="midnightblue" points="2383.52,-76.69 2392.88,-71.73 2382.47,-69.77 2383.52,-76.69"/>
</g>
<g>
<path fill="none" stroke="midnightblue" d="M1122.79,-168.87C1093.21,-162.61 1060.15,-151.55 1035.15,-132 1019.84,-120.03 1009.79,-99.84 1004.08,-85.13"/>
<polygon fill="midnightblue" stroke="midnightblue" points="1007.33,-83.83 1000.67,-75.58 1000.74,-86.18 1007.33,-83.83"/>
</g>
<g>
<path fill="none" stroke="midnightblue" d="M1122.88,-173.82C1093.28,-168.5 1061.68,-156.81 1043.15,-132 1028.43,-112.29 1055.15,-92.56 1078.44,-80.1"/>
<polygon fill="midnightblue" stroke="midnightblue" points="1080.09,-83.18 1087.42,-75.53 1076.92,-76.94 1080.09,-83.18"/>
</g>
<g>
<path fill="none" stroke="midnightblue" d="M1219.75,-168.45C1261.59,-154.28 1349.53,-126.1 1426.15,-112 1578.37,-84 1759.94,-73.2 1857.28,-69.21"/>
<polygon fill="midnightblue" stroke="midnightblue" points="1857.43,-72.7 1867.29,-68.81 1857.16,-65.71 1857.43,-72.7"/>
</g>
<g>
<path fill="none" stroke="midnightblue" d="M1200.33,-168.08C1208.11,-155.05 1223.65,-130.39 1240.15,-112 1250,-101.03 1262.44,-90.18 1272.68,-81.88"/>
<polygon fill="midnightblue" stroke="midnightblue" points="1275,-84.51 1280.67,-75.56 1270.65,-79.02 1275,-84.51"/>
</g>
<g>
<path fill="none" stroke="midnightblue" d="M1211.71,-168.37C1248.46,-149.21 1337.03,-103.04 1380.8,-80.22"/>
<polygon fill="midnightblue" stroke="midnightblue" points="1382.42,-83.32 1389.67,-75.59 1379.19,-77.11 1382.42,-83.32"/>
</g>
<g>
<path fill="none" stroke="midnightblue" d="M1267.56,-168.76C1270.46,-168.49 1273.33,-168.24 1276.15,-168 1559.17,-144.24 1900.23,-129.53 2021.58,-124.73"/>
<polygon fill="midnightblue" stroke="midnightblue" points="2021.77,-128.23 2031.63,-124.34 2021.5,-121.23 2021.77,-128.23"/>
</g>
<g>
<path fill="none" stroke="midnightblue" d="M1240.47,-168.44C1290.78,-158.94 1371.99,-143.61 1425.97,-133.42"/>
<polygon fill="midnightblue" stroke="midnightblue" points="1426.87,-136.81 1436.05,-131.52 1425.57,-129.93 1426.87,-136.81"/>
</g>
<g>
<path fill="none" stroke="midnightblue" d="M1100.82,-112.44C1080.83,-103.6 1049.41,-89.69 1026.59,-79.59"/>
<polygon fill="midnightblue" stroke="midnightblue" points="1027.95,-76.36 1017.39,-75.52 1025.12,-82.76 1027.95,-76.36"/>
</g>
<g>
<path fill="none" stroke="midnightblue" d="M1118.01,-112.08C1116.28,-104.93 1113.81,-94.64 1111.65,-85.69"/>
<polygon fill="midnightblue" stroke="midnightblue" points="1115,-84.65 1109.26,-75.75 1108.2,-86.29 1115,-84.65"/>
</g>
<g>
<path fill="none" stroke="midnightblue" d="M1187.91,-116.47C1339.33,-106.33 1703.82,-81.94 1857.24,-71.68"/>
<polygon fill="midnightblue" stroke="midnightblue" points="1857.73,-75.15 1867.47,-70.99 1857.26,-68.17 1857.73,-75.15"/>
</g>
<g>
<path fill="none" stroke="midnightblue" d="M1147.41,-112.44C1176.59,-103.28 1223.07,-88.69 1255.46,-78.52"/>
<polygon fill="midnightblue" stroke="midnightblue" points="1256.53,-81.85 1265.03,-75.52 1254.44,-75.17 1256.53,-81.85"/>
</g>
<g>
<path fill="none" stroke="midnightblue" d="M1165.47,-112.44C1220.7,-102.02 1313.16,-84.56 1365.95,-74.59"/>
<polygon fill="midnightblue" stroke="midnightblue" points="1366.78,-77.99 1375.96,-72.7 1365.49,-71.12 1366.78,-77.99"/>
</g>
<g>
<path fill="none" stroke="midnightblue" d="M2154.49,-168.32C2148.07,-154.22 2133.42,-126.45 2112.15,-112 2092.26,-98.49 2035.22,-85.8 1989.69,-77.36"/>
<polygon fill="midnightblue" stroke="midnightblue" points="1990.04,-73.87 1979.57,-75.52 1988.79,-80.76 1990.04,-73.87"/>
</g>
<g>
<path fill="none" stroke="midnightblue" d="M2124.47,-168.41C2067.81,-154.31 1949.7,-126.38 1848.15,-112 1635.89,-81.94 1580.52,-96.78 1367.15,-76 1364.78,-75.77 1362.38,-75.53 1359.94,-75.27"/>
<polygon fill="midnightblue" stroke="midnightblue" points="1360.18,-71.78 1349.86,-74.19 1359.43,-78.74 1360.18,-71.78"/>
</g>
<g>
<path fill="none" stroke="midnightblue" d="M2100.86,-169.15C2029.78,-159.41 1908.7,-142.81 1832.75,-132.4"/>
<polygon fill="midnightblue" stroke="midnightblue" points="1833.18,-128.93 1822.8,-131.04 1832.23,-135.86 1833.18,-128.93"/>
</g>
<g>
<path fill="none" stroke="midnightblue" d="M2173.26,-168.32C2188.06,-159.82 2210.85,-146.73 2228.13,-136.8"/>
<polygon fill="midnightblue" stroke="midnightblue" points="2230.16,-139.67 2237.09,-131.65 2226.67,-133.6 2230.16,-139.67"/>
</g>
<g>
<path fill="none" stroke="midnightblue" d="M2161.37,-168.37C2168.02,-150.54 2183.39,-109.3 2192.34,-85.27"/>
<polygon fill="midnightblue" stroke="midnightblue" points="2195.74,-86.18 2195.95,-75.59 2189.18,-83.74 2195.74,-86.18"/>
</g>
<g>
<path fill="none" stroke="midnightblue" d="M1324.41,-168.37C1318.73,-150.54 1305.61,-109.3 1297.97,-85.27"/>
<polygon fill="midnightblue" stroke="midnightblue" points="1301.25,-84.06 1294.89,-75.59 1294.58,-86.18 1301.25,-84.06"/>
</g>
<g>
<path fill="none" stroke="midnightblue" d="M1368.66,-171.87C1443.92,-162.57 1603.6,-142.84 1695.38,-131.5"/>
<polygon fill="midnightblue" stroke="midnightblue" points="1695.91,-134.96 1705.41,-130.26 1695.05,-128.01 1695.91,-134.96"/>
</g>
<g>
<path fill="none" stroke="midnightblue" d="M1501.6,-171.45C1372.58,-161 1095.32,-138.56 968.67,-128.3"/>
<polygon fill="midnightblue" stroke="midnightblue" points="968.6,-124.79 958.35,-127.47 968.04,-131.76 968.6,-124.79"/>
</g>
<g>
<path fill="none" stroke="midnightblue" d="M1574.61,-168.08C1578.31,-160.69 1583.68,-149.95 1588.25,-140.81"/>
<polygon fill="midnightblue" stroke="midnightblue" points="1591.44,-142.26 1592.78,-131.75 1585.17,-139.13 1591.44,-142.26"/>
</g>
<g>
<path fill="none" stroke="midnightblue" d="M1587.03,-168.38C1604.74,-159.33 1633.41,-144.67 1658.15,-132 1675.49,-123.12 1678.42,-117.35 1697.15,-112 1880.92,-59.53 1937.92,-95.85 2131.37,-76.12"/>
<polygon fill="midnightblue" stroke="midnightblue" points="2132.01,-79.57 2141.58,-75.03 2131.27,-72.61 2132.01,-79.57"/>
</g>
<g>
<path fill="none" stroke="midnightblue" d="M942.39,-168.08C935.62,-160.3 925.61,-148.8 917.4,-139.37"/>
<polygon fill="midnightblue" stroke="midnightblue" points="919.97,-137 910.77,-131.75 914.69,-141.59 919.97,-137"/>
</g>
<g>
<path fill="none" stroke="midnightblue" d="M2682.6,-168.43C2635.76,-154.23 2537.39,-126 2452.15,-112 2254.78,-79.58 2200.1,-96.58 1997.07,-76.03"/>
<polygon fill="midnightblue" stroke="midnightblue" points="1997.28,-72.54 1986.97,-74.99 1996.56,-79.5 1997.28,-72.54"/>
</g>
<g>
<path fill="none" stroke="midnightblue" d="M1691.37,-225.42C1758.07,-216.57 1871.63,-201.41 1969.15,-188 1970.61,-187.8 1972.09,-187.6 1973.58,-187.39"/>
<polygon fill="midnightblue" stroke="midnightblue" points="1974.12,-190.85 1983.54,-186.01 1973.16,-183.92 1974.12,-190.85"/>
</g>
<g>
<path fill="none" stroke="midnightblue" d="M1599.71,-224.43C1570.63,-216.62 1528.26,-203.91 1493.15,-188 1423.68,-156.52 1348.29,-106.35 1312.82,-81.68"/>
<polygon fill="midnightblue" stroke="midnightblue" points="1314.49,-78.58 1304.29,-75.7 1310.47,-84.31 1314.49,-78.58"/>
</g>
<g>
<path fill="none" stroke="midnightblue" d="M1691.4,-226.23C1764.68,-217.24 1887.41,-200.98 1931.15,-188 1951.75,-181.89 1954.59,-174.22 1975.15,-168 2046.05,-146.55 2130.44,-134.7 2187.29,-128.62"/>
<polygon fill="midnightblue" stroke="midnightblue" points="2187.99,-132.07 2197.57,-127.55 2187.26,-125.11 2187.99,-132.07"/>
</g>
<g>
<path fill="none" stroke="midnightblue" d="M1639.38,-224.22C1646.31,-211.38 1656.7,-186.94 1648.15,-168 1642.54,-155.56 1631.59,-145.17 1621.27,-137.53"/>
<polygon fill="midnightblue" stroke="midnightblue" points="1623.11,-134.54 1612.89,-131.76 1619.15,-140.31 1623.11,-134.54"/>
</g>
<g>
<path fill="none" stroke="midnightblue" d="M1691.31,-225.5C1737.59,-218.5 1804.07,-206.36 1860.15,-188 1936.12,-163.13 1947.88,-138.91 2023.15,-112 2063.7,-97.51 2111.05,-85.67 2146.42,-77.79"/>
<polygon fill="midnightblue" stroke="midnightblue" points="2147.51,-81.13 2156.53,-75.57 2146.01,-74.29 2147.51,-81.13"/>
</g>
<g>
<path fill="none" stroke="midnightblue" d="M1623.87,-224.32C1614.32,-216.26 1599.87,-204.08 1588.37,-194.37"/>
<polygon fill="midnightblue" stroke="midnightblue" points="1590.52,-191.61 1580.62,-187.83 1586.01,-196.96 1590.52,-191.61"/>
</g>
<g>
<path fill="none" stroke="midnightblue" d="M2854.3,-168.08C2856.02,-160.93 2858.5,-150.64 2860.65,-141.69"/>
<polygon fill="midnightblue" stroke="midnightblue" points="2864.11,-142.29 2863.05,-131.75 2857.3,-140.65 2864.11,-142.29"/>
</g>
<g>
<path fill="none" stroke="midnightblue" d="M2466.08,-168.44C2444.09,-159.52 2409.42,-145.44 2384.49,-135.32"/>
<polygon fill="midnightblue" stroke="midnightblue" points="2385.71,-132.04 2375.13,-131.52 2383.08,-138.52 2385.71,-132.04"/>
</g>
<g>
<path fill="none" stroke="midnightblue" d="M2481.95,-168.36C2472.64,-153.78 2451.6,-124.66 2425.15,-112 2341.55,-71.99 2106.59,-85.28 1997.16,-75.95"/>
<polygon fill="midnightblue" stroke="midnightblue" points="1997.26,-72.44 1986.97,-74.97 1996.59,-79.41 1997.26,-72.44"/>
</g>
<g>
<path fill="none" stroke="midnightblue" d="M2501.55,-168.31C2546.47,-141.19 2684.32,-57.98 2739.23,-24.83"/>
<polygon fill="midnightblue" stroke="midnightblue" points="2741.14,-27.77 2747.9,-19.61 2737.53,-21.78 2741.14,-27.77"/>
</g>
<g>
<path fill="none" stroke="midnightblue" d="M2449.92,-168.44C2409.09,-159.06 2343.51,-143.99 2299.17,-133.8"/>
<polygon fill="midnightblue" stroke="midnightblue" points="2299.74,-130.34 2289.21,-131.52 2298.18,-137.17 2299.74,-130.34"/>
</g>
<g>
<path fill="none" stroke="midnightblue" d="M2475.47,-168.47C2452.19,-151.56 2401.44,-115.11 2392.15,-112 2301.53,-81.68 1620.2,-70.03 1446.41,-67.54"/>
<polygon fill="midnightblue" stroke="midnightblue" points="1446.45,-64.04 1436.4,-67.4 1446.35,-71.04 1446.45,-64.04"/>
</g>
<g>
<path fill="none" stroke="midnightblue" d="M2486.61,-168.28C2485.24,-154.13 2480.37,-126.29 2463.15,-112 2434.02,-87.81 2335.08,-76.18 2266.96,-70.93"/>
<polygon fill="midnightblue" stroke="midnightblue" points="2266.96,-67.42 2256.73,-70.17 2266.44,-74.4 2266.96,-67.42"/>
</g>
<g>
<path fill="none" stroke="midnightblue" d="M2431.38,-169.83C2347.45,-159.04 2190.28,-138.83 2112.77,-128.86"/>
<polygon fill="midnightblue" stroke="midnightblue" points="2113.19,-125.39 2102.82,-127.59 2112.29,-132.33 2113.19,-125.39"/>
</g>
<g>
<path fill="none" stroke="midnightblue" d="M2296.24,-168.32C2306.64,-160.18 2322.41,-147.84 2334.87,-138.09"/>
<polygon fill="midnightblue" stroke="midnightblue" points="2337.15,-140.75 2342.86,-131.83 2332.83,-135.24 2337.15,-140.75"/>
</g>
<g>
<path fill="none" stroke="midnightblue" d="M2279.7,-168.08C2275.14,-160.61 2268.48,-149.72 2262.86,-140.52"/>
<polygon fill="midnightblue" stroke="midnightblue" points="2265.7,-138.46 2257.5,-131.75 2259.73,-142.11 2265.7,-138.46"/>
</g>
<g>
<path fill="none" stroke="midnightblue" d="M2830.14,-56.32C2817.62,-47.98 2798.47,-35.21 2783.68,-25.35"/>
<polygon fill="midnightblue" stroke="midnightblue" points="2785.4,-22.29 2775.13,-19.65 2781.51,-28.11 2785.4,-22.29"/>
</g>
<g>
<path fill="none" stroke="midnightblue" d="M2435.15,-229.03C2368.8,-221.83 2224.97,-205.82 2092.62,-188.02"/>
<polygon fill="midnightblue" stroke="midnightblue" points="2093.09,-184.55 2082.71,-186.68 2092.15,-191.49 2093.09,-184.55"/>
</g>
<g>
<path fill="none" stroke="midnightblue" d="M2455.92,-224.43C2432,-211.85 2385.83,-187.72 2346.15,-168 2323.94,-156.96 2298.56,-144.84 2279.77,-135.96"/>
<polygon fill="midnightblue" stroke="midnightblue" points="2281.14,-132.73 2270.6,-131.63 2278.16,-139.06 2281.14,-132.73"/>
</g>
<g>
<path fill="none" stroke="midnightblue" d="M2434.98,-228.59C2420.39,-226.97 2403.5,-225.24 2388.15,-224 2241.08,-212.14 1867.67,-226.23 1725.15,-188 1684.81,-177.18 1642.43,-152.67 1617.97,-137.03"/>
<polygon fill="midnightblue" stroke="midnightblue" points="1619.81,-134.05 1609.52,-131.52 1615.98,-139.91 1619.81,-134.05"/>
</g>
<g>
<path fill="none" stroke="midnightblue" d="M2502.4,-224.49C2520.28,-217.73 2541.45,-206.29 2552.15,-188 2578.8,-142.44 2503.98,-120.92 2484.15,-112 2414.41,-80.62 2326.49,-70.67 2266.88,-67.74"/>
<polygon fill="midnightblue" stroke="midnightblue" points="2266.97,-64.24 2256.83,-67.3 2266.67,-71.23 2266.97,-64.24"/>
</g>
<g>
<path fill="none" stroke="midnightblue" d="M2509.27,-227.59C2546.85,-220.1 2597.78,-203.26 2585.15,-168 2574.29,-137.68 2565.22,-130.93 2539.15,-112 2517.01,-95.92 2488.37,-84.69 2465.21,-77.47"/>
<polygon fill="midnightblue" stroke="midnightblue" points="2465.91,-74.03 2455.32,-74.53 2463.91,-80.74 2465.91,-74.03"/>
</g>
<g>
<path fill="none" stroke="midnightblue" d="M2434.9,-226.59C2381.24,-217.36 2281.62,-200.23 2217.69,-189.24"/>
<polygon fill="midnightblue" stroke="midnightblue" points="2218.19,-185.77 2207.74,-187.53 2217.01,-192.67 2218.19,-185.77"/>
</g>
<g>
<path fill="none" stroke="midnightblue" d="M2509.28,-227.72C2574.78,-218.42 2711.45,-198.99 2791.04,-187.68"/>
<polygon fill="midnightblue" stroke="midnightblue" points="2792,-191.08 2801.4,-186.21 2791.01,-184.15 2792,-191.08"/>
</g>
</g>
</svg>
</body>
</html>
